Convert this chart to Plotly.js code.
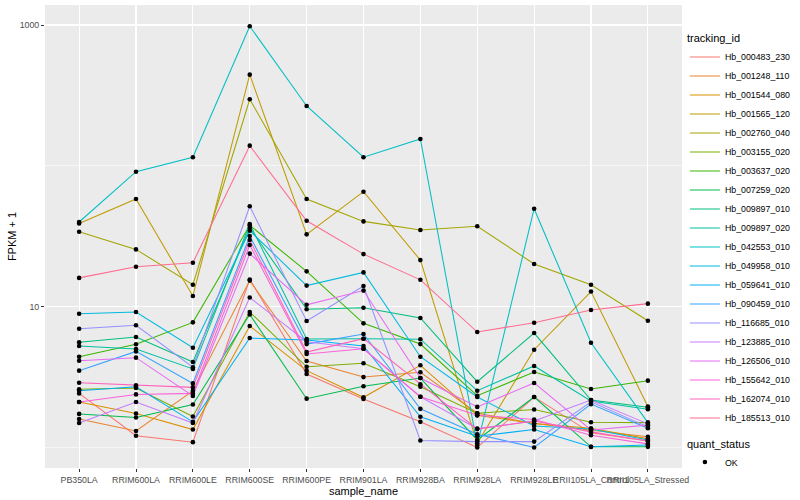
<!DOCTYPE html>
<html><head><meta charset="utf-8">
<script src="https://cdn.plot.ly/plotly-3.0.1.min.js"></script>
<style>html,body{margin:0;padding:0;background:#fff}#chart{width:800px;height:500px}</style>
</head><body><div id="chart"></div>
<script>
// categories (x axis)
const samples = ["PB350LA","RRIM600LA","RRIM600LE","RRIM600SE","RRIM600PE","RRIM901LA","RRIM928BA","RRIM928LA","RRIM928LE","RRII105LA_Control","RRII105LA_Stressed"];

// series: FPKM + 1 per sample
const Hb_000483_230 = [2.42, 1.21, 1.09, 15.6, 3.32, 2.21, 1.52, 1.00, 2.28, 1.27, 1.11];
const Hb_001248_110 = [1.59, 1.31, 2.52, 15.3, 4.11, 3.16, 3.42, 1.75, 1.48, 1.33, 1.19];
const Hb_001544_080 = [2.10, 1.74, 1.34, 7.28, 3.51, 2.27, 3.83, 1.69, 1.48, 1.37, 1.15];
const Hb_001565_120 = [39.0, 58.1, 11.9, 444, 32.6, 65.5, 21.4, 1.07, 4.94, 12.8, 1.95];
const Hb_002760_040 = [34.0, 25.5, 14.3, 297, 58.1, 40.3, 35.0, 37.2, 20.1, 14.3, 7.94];
const Hb_003155_020 = [2.59, 2.64, 1.66, 9.16, 3.74, 3.96, 2.70, 1.75, 1.86, 1.51, 1.50];
const Hb_003637_020 = [4.41, 5.40, 7.73, 37.8, 17.8, 7.61, 5.42, 2.33, 3.43, 2.60, 2.98];
const Hb_007259_020 = [1.73, 1.63, 2.02, 8.79, 2.22, 2.72, 3.11, 1.13, 2.28, 1.01, 1.01];
const Hb_009897_010 = [5.58, 6.08, 4.04, 36.3, 9.57, 9.82, 8.30, 2.93, 6.49, 2.17, 1.93];
const Hb_009897_020 = [5.25, 5.00, 3.61, 38.6, 5.89, 5.92, 5.87, 2.53, 3.79, 2.14, 1.87];
const Hb_042553_010 = [39.9, 90.8, 115, 979, 266, 115, 155, 1.04, 49.6, 5.54, 1.50];
const Hb_049958_010 = [8.91, 9.16, 5.11, 34.6, 14.1, 17.5, 4.41, 2.28, 1.42, 1.35, 1.13];
const Hb_059641_010 = [2.53, 2.70, 1.52, 5.98, 5.79, 5.25, 1.65, 1.20, 1.34, 1.01, 1.04];
const Hb_090459_010 = [3.51, 4.81, 2.85, 31.7, 5.42, 6.39, 1.88, 1.24, 1.00, 2.03, 1.37];
const Hb_116685_010 = [6.97, 7.37, 3.71, 51.6, 7.90, 14.0, 1.12, 1.10, 1.10, 2.11, 1.40];
const Hb_123885_010 = [1.49, 2.10, 1.49, 11.6, 5.63, 5.02, 2.29, 1.36, 1.54, 2.17, 1.47];
const Hb_126506_010 = [4.13, 4.34, 2.32, 23.8, 10.3, 13.0, 3.11, 1.94, 2.87, 1.33, 1.44];
const Hb_155642_010 = [2.10, 2.38, 2.42, 27.4, 4.61, 5.02, 2.29, 1.69, 1.58, 1.22, 1.06];
const Hb_162074_010 = [2.88, 2.76, 2.67, 29.7, 4.76, 5.92, 2.81, 1.35, 1.54, 1.29, 1.11];
const Hb_185513_010 = [16.0, 19.2, 20.5, 139, 40.7, 23.6, 15.5, 6.60, 7.69, 9.46, 10.5];

const trackingIds = ["Hb_000483_230","Hb_001248_110","Hb_001544_080","Hb_001565_120","Hb_002760_040","Hb_003155_020","Hb_003637_020","Hb_007259_020","Hb_009897_010","Hb_009897_020","Hb_042553_010","Hb_049958_010","Hb_059641_010","Hb_090459_010","Hb_116685_010","Hb_123885_010","Hb_126506_010","Hb_155642_010","Hb_162074_010","Hb_185513_010"];
const seriesValues = [Hb_000483_230,Hb_001248_110,Hb_001544_080,Hb_001565_120,Hb_002760_040,Hb_003155_020,Hb_003637_020,Hb_007259_020,Hb_009897_010,Hb_009897_020,Hb_042553_010,Hb_049958_010,Hb_059641_010,Hb_090459_010,Hb_116685_010,Hb_123885_010,Hb_126506_010,Hb_155642_010,Hb_162074_010,Hb_185513_010];
const colors = ["#F8766D","#EA8331","#D89000","#C09B00","#A3A500","#7CAE00","#39B600","#00BB4E","#00BF7D","#00C1A3","#00BFC4","#00BAE0","#00B0F6","#35A2FF","#9590FF","#C77CFF","#E76BF3","#FA62DB","#FF62BC","#FF6C91"];
const quantStatus = "OK";
const yTickVals = [10, 1000];
const yTickText = ["10", "1000"];

const FONT = "Liberation Sans, Arial, Helvetica, sans-serif";
const traces = [];
trackingIds.forEach((id, i) => {
  traces.push({
    type: "scatter", mode: "lines", name: id,
    x: samples, y: seriesValues[i],
    line: {color: colors[i], width: 1.05},
    legend: "legend", hoverinfo: "x+y+name"
  });
});
const px = [], py = [];
seriesValues.forEach(v => v.forEach((val, j) => { px.push(samples[j]); py.push(val); }));
traces.push({
  type: "scatter", mode: "markers", name: quantStatus, x: px, y: py,
  marker: {color: "#000", size: 4.6, symbol: "circle"},
  legend: "legend2"
});

const layout = {
  width: 800, height: 500,
  margin: {l: 45, r: 117, t: 5, b: 32},
  paper_bgcolor: "#FFFFFF", plot_bgcolor: "#EBEBEB",
  font: {family: FONT, color: "#000"},
  showlegend: true,
  xaxis: {
    type: "category", categoryorder: "array", categoryarray: samples,
    range: [-0.6, 10.6], automargin: false, fixedrange: true, tickangle: 0,
    showgrid: true, gridcolor: "#FFFFFF", gridwidth: 1.1,
    zeroline: false, showline: false,
    ticks: "outside", ticklen: 3, tickwidth: 1, tickcolor: "#333333",
    tickfont: {family: FONT, size: 8.8, color: "#4D4D4D"},
    title: {text: "sample_name", font: {family: FONT, size: 11, color: "#000"}, standoff: 2}
  },
  yaxis: {
    type: "log", range: [-0.146, 3.142], automargin: false, fixedrange: true,
    tickmode: "array", tickvals: yTickVals, ticktext: yTickText,
    showgrid: true, gridcolor: "#FFFFFF", gridwidth: 1.1,
    minor: {tickmode: "array", tickvals: [1, 100], showgrid: true, gridcolor: "#FFFFFF", gridwidth: 0.55, ticks: ""},
    zeroline: false, showline: false,
    ticks: "outside", ticklen: 3, tickwidth: 1, tickcolor: "#333333",
    tickfont: {family: FONT, size: 8.8, color: "#4D4D4D"},
    title: {text: "FPKM + 1", font: {family: FONT, size: 11, color: "#000"}, standoff: 0}
  },
  legend: {
    title: {text: "tracking_id", font: {family: FONT, size: 11, color: "#000"}},
    x: 1.003, xanchor: "left", y: 0.95, yanchor: "top",
    font: {family: FONT, size: 8.8, color: "#000"},
    bgcolor: "rgba(0,0,0,0)", itemwidth: 30, tracegroupgap: 0
  },
  legend2: {
    title: {text: "quant_status", font: {family: FONT, size: 11, color: "#000"}},
    x: 1.003, xanchor: "left", y: 0.075, yanchor: "top",
    font: {family: FONT, size: 8.8, color: "#000"},
    bgcolor: "rgba(0,0,0,0)", itemwidth: 30
  }
};
Plotly.newPlot("chart", traces, layout, {displayModeBar: false, staticPlot: true});
</script></body></html>
